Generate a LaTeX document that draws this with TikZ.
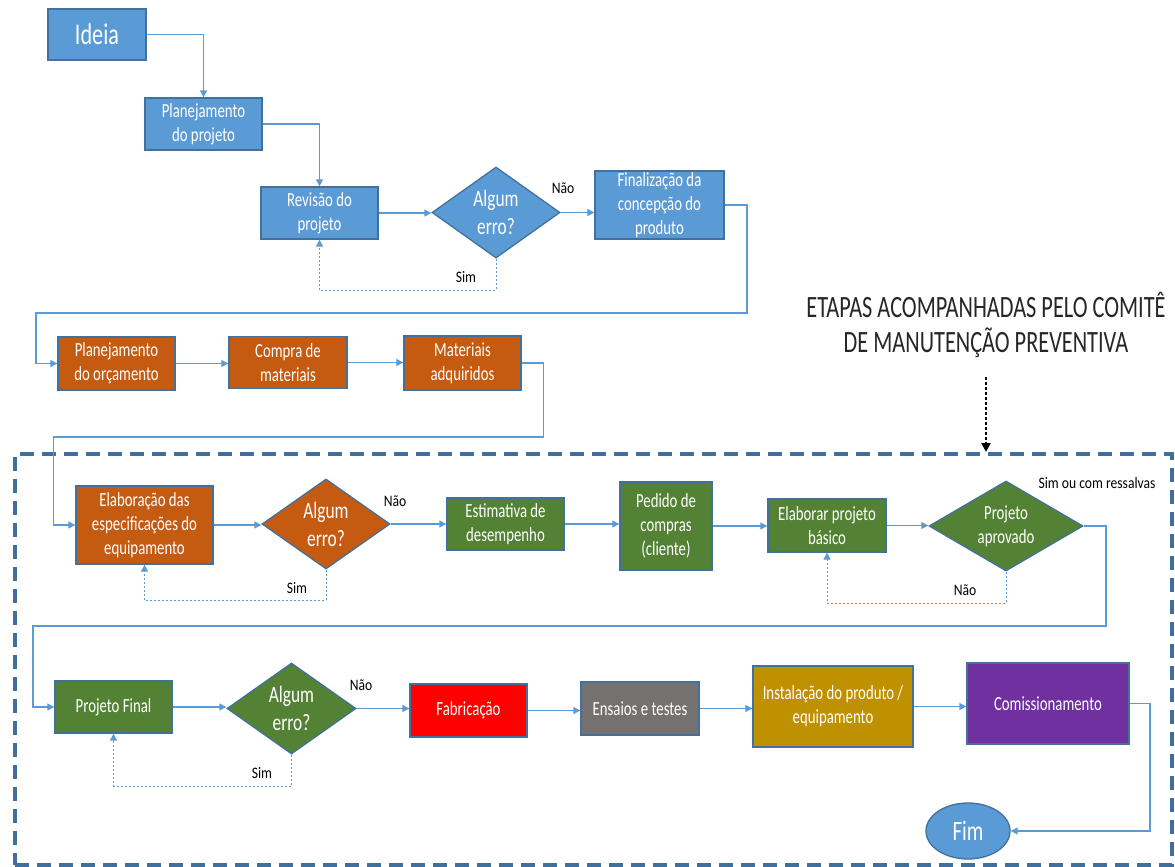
\documentclass[tikz,border=0pt]{standalone}
\usepackage{fontspec}
\setmainfont[FakeStretch=0.74]{Carlito}
\newfontfamily\lblfont[FakeStretch=0.85]{Carlito}
\newfontfamily\ttlfont[FakeStretch=0.72]{Carlito}
\usetikzlibrary{arrows.meta,shapes.geometric}
\definecolor{bluef}{HTML}{5B9BD5}
\definecolor{bordc}{HTML}{41719C}
\definecolor{orangef}{HTML}{C55A11}
\definecolor{greenf}{HTML}{548235}
\definecolor{redf}{HTML}{FF0000}
\definecolor{grayf}{HTML}{767171}
\definecolor{goldf}{HTML}{BF9000}
\definecolor{purplef}{HTML}{7030A0}
\definecolor{connc}{HTML}{5B9BD5}
\definecolor{zonec}{HTML}{3F6F9C}
\begin{document}
\begin{tikzpicture}[x=1pt,y=-1pt,
  box/.style={draw=bordc, line width=1.3pt, inner sep=0pt, text=white, align=center,
    font=\fontsize{20}{24}\selectfont},
  dia/.style={diamond, draw=bordc, line width=1.3pt, inner sep=0pt},
  dtxt/.style={inner sep=0pt, text=white, align=center, font=\fontsize{23.5}{28}\selectfont},
  ptxt/.style={inner sep=0pt, text=white, align=center, font=\fontsize{20}{24}\selectfont},
  lbl/.style={inner sep=0pt, text=black, font=\lblfont\fontsize{16}{18}\selectfont},
  conn/.style={draw=connc, line width=1.1pt, -{Triangle[length=7pt,width=7pt]}},
  fb/.style={conn, dash pattern=on 2pt off 2pt, line width=0.9pt},
  zone/.style={draw=zonec, line width=4pt, dash pattern=on 14pt off 8pt, inner sep=0pt},
  dotarrow/.style={draw=black, line width=2.4pt, dash pattern=on 2.5pt off 2.5pt,
    -{Triangle[length=9pt,width=9pt]}}
]
\useasboundingbox (0,0) rectangle (1175,867);

% dashed zone
\node[zone, minimum width=1157, minimum height=411] (zone) at (593.5,659.5) {};

% title
\node[inner sep=0pt, align=center, text=black!85, font=\ttlfont\fontsize{31}{35}\selectfont]
  (ttl) at (986,324.5) {ETAPAS ACOMPANHADAS PELO COMITÊ\\DE MANUTENÇÃO PREVENTIVA};
\coordinate (t1) at (986,377);
\draw[dotarrow] (t1) -- (t1 |- zone.north);

% top row
\node[box, fill=bluef, minimum width=98, minimum height=51, font=\fontsize{30}{34}\selectfont] (ideia) at (97,34.5) {Ideia};
\node[box, fill=bluef, minimum width=117, minimum height=52] (plan) at (203.5,124) {Planejamento\\do projeto};
\node[box, fill=bluef, minimum width=117, minimum height=52] (rev) at (319.5,213) {Revisão do\\projeto};
\node[dia, fill=bluef, minimum width=128, minimum height=91] (d1) at (496,212.5) {};
\node[dtxt] (d1t) at (d1) {Algum\\erro?};
\node[box, fill=bluef, minimum width=129, minimum height=68] (fin) at (659.5,205) {Finalização da\\concepção do\\produto};

% orange row
\node[box, fill=orangef, minimum width=117, minimum height=53] (orc) at (116.5,363.5) {Planejamento\\do orçamento};
\node[box, fill=orangef, minimum width=118, minimum height=52] (compra) at (288,362.5) {Compra de\\materiais};
\node[box, fill=orangef, minimum width=117, minimum height=54] (mat) at (462.5,363) {Materiais\\adquiridos};

% second row
\node[box, fill=orangef, minimum width=137, minimum height=78] (elab) at (144.5,525) {Elaboração das\\especificações do\\equipamento};
\node[dia, fill=orangef, minimum width=128, minimum height=90] (d2) at (326,524) {};
\node[dtxt] (d2t) at (d2) {Algum\\erro?};
\node[box, fill=greenf, minimum width=117, minimum height=52] (est) at (505.5,524) {Estimativa de\\desempenho};
\node[box, fill=greenf, minimum width=92, minimum height=88] (ped) at (666,526) {Pedido de\\compras\\(cliente)};
\node[box, fill=greenf, minimum width=118, minimum height=53] (bas) at (827,525.5) {Elaborar projeto\\básico};
\node[dia, fill=greenf, minimum width=154, minimum height=90] (d3) at (1006,526) {};
\node[ptxt] (d3t) at (d3) {Projeto\\aprovado};

% third row
\node[box, fill=greenf, minimum width=117, minimum height=52] (pf) at (113.5,707) {Projeto Final};
\node[dia, fill=greenf, minimum width=129, minimum height=91] (d4) at (291.5,708.5) {};
\node[dtxt] (d4t) at (d4) {Algum\\erro?};
\node[box, fill=redf, minimum width=117, minimum height=53] (fab) at (468.5,710.5) {Fabricação};
\node[box, fill=grayf, minimum width=118, minimum height=53] (ens) at (640,708.5) {Ensaios e testes};
\node[box, fill=goldf, minimum width=160, minimum height=81] (inst) at (833,706.5) {Instalação do produto /\\equipamento};
\node[box, fill=purplef, minimum width=162, minimum height=81] (com) at (1048,703.5) {Comissionamento};
\node[ellipse, draw=bordc, fill=bluef, line width=1.3pt, inner sep=0pt, text=white,
  minimum width=84, minimum height=56, font=\fontsize{28}{32}\selectfont] (fim) at (968,831) {Fim};

% labels
\node[lbl] (nao1) at (563,188) {Não};
\node[lbl] (sim1) at (466,277) {Sim};
\node[lbl] (nao2) at (395,501) {Não};
\node[lbl] (sim2) at (297,588) {Sim};
\node[lbl] (sim3) at (1097,483) {Sim ou com ressalvas};
\node[lbl] (nao3) at (965,590) {Não};
\node[lbl] (nao4) at (361,685) {Não};
\node[lbl] (sim4) at (262,773) {Sim};

% coordinates for routed connectors
\coordinate (k1) at (747,313);
\coordinate (k2) at (36,313);
\coordinate (k3) at (543.6,437);
\coordinate (k4) at (53.6,437);
\coordinate (k5) at (1106,626);
\coordinate (k6) at (33,626);
\coordinate (k7) at (1150,831);
\coordinate (f1) at (496,290);
\coordinate (f2) at (326,600);
\coordinate (f3) at (1006,603);
\coordinate (f4) at (291.5,786);

% connectors
\draw[conn] (ideia.east) -| (plan.north);
\draw[conn] (plan.east) -| (rev.north);
\draw[conn] (rev.east) -- (rev.east -| d1.west);
\draw[conn] (d1.east) -- (d1.east -| fin.west);
\draw[conn] (fin.east) -| (k1) -- (k2) |- (orc.west);
\draw[conn] (orc.east) -- (orc.east -| compra.west);
\draw[conn] (compra.east) -- (compra.east -| mat.west);
\draw[conn] (mat.east) -| (k3) -- (k4) |- (elab.west);
\draw[conn] (elab.east) -- (elab.east -| d2.west);
\draw[conn] (d2.east) -- (d2.east -| est.west);
\draw[conn] (est.east) -- (est.east -| ped.west);
\draw[conn] (ped.east) -- (ped.east -| bas.west);
\draw[conn] (bas.east) -- (bas.east -| d3.west);
\draw[conn] (d3.east) -| (k5) -- (k6) |- (pf.west);
\draw[conn] (pf.east) -- (pf.east -| d4.west);
\draw[conn] (d4.east) -- (d4.east -| fab.west);
\draw[conn] (fab.east) -- (fab.east -| ens.west);
\draw[conn] (ens.east) -- (ens.east -| inst.west);
\draw[conn] (inst.east) -- (inst.east -| com.west);
\draw[conn] (com.east) -| (k7) -- (fim.east);

% feedback loops
\draw[fb] (d1.south) -- (f1) -| (rev.south);
\draw[fb] (d2.south) -- (f2) -| (elab.south);
\draw[fb] (d3.south) -- (f3) -| (bas.south);
\draw[fb] (d4.south) -- (f4) -| (pf.south);
\end{tikzpicture}
\end{document}
